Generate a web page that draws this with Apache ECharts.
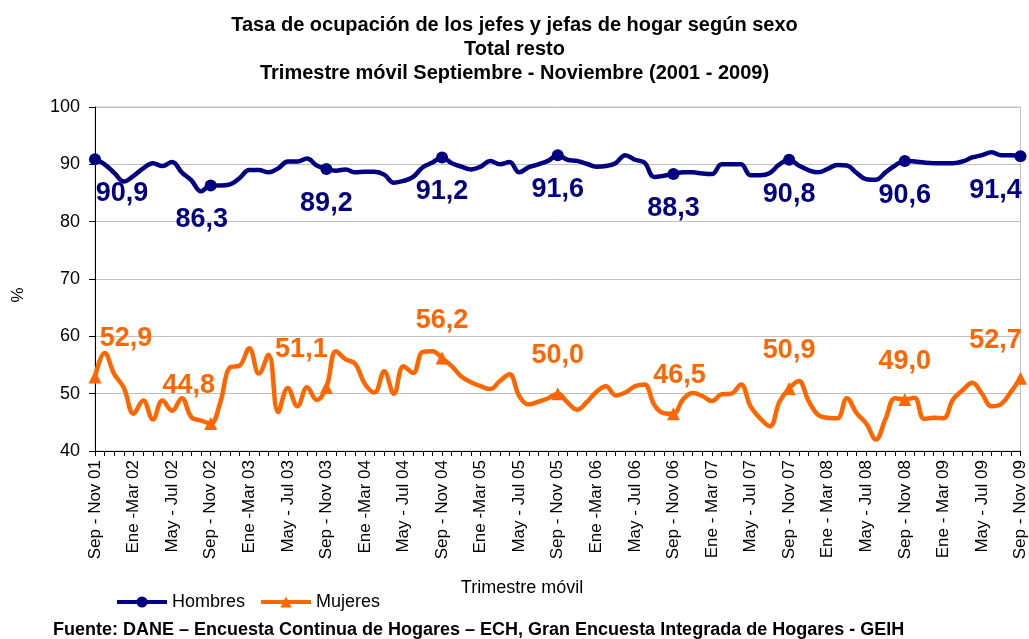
<!DOCTYPE html>
<html>
<head>
<meta charset="utf-8">
<script src="https://cdn.jsdelivr.net/npm/echarts@6/dist/echarts.min.js"></script>
<style>
  html, body { margin: 0; padding: 0; background: #fff; }
  #main { width: 1029px; height: 639px; }
</style>
</head>
<body>
<div id="main"></div>
<script>
// etiquetas visibles del eje x (cada 4 trimestres)
var tickLabels = ['Sep - Nov 01', 'Ene -Mar 02', 'May - Jul 02', 'Sep - Nov 02', 'Ene -Mar 03', 'May - Jul 03',
  'Sep - Nov 03', 'Ene -Mar 04', 'May - Jul 04', 'Sep - Nov 04', 'Ene -Mar 05', 'May - Jul 05',
  'Sep - Nov 05', 'Ene -Mar 06', 'May - Jul 06', 'Sep - Nov 06', 'Ene - Mar 07', 'May - Jul 07',
  'Sep - Nov 07', 'Ene - Mar 08', 'May - Jul 08', 'Sep - Nov 08', 'Ene - Mar 09', 'May - Jul 09', 'Sep - Nov 09'];
var meses = ['Ene', 'Feb', 'Mar', 'Abr', 'May', 'Jun', 'Jul', 'Ago', 'Sep', 'Oct', 'Nov', 'Dic'];

var hombres = [90.9, 90.0, 88.5, 87.0, 88.0, 89.3, 90.2, 89.7, 90.4, 88.6, 87.2, 85.3,
  86.3, 86.3, 86.5, 87.6, 89.0, 89.0, 88.6, 89.3, 90.5, 90.5, 91.0, 89.8,
  89.2, 88.9, 89.1, 88.6, 88.7, 88.7, 88.2, 86.8, 87.1, 87.8, 89.5, 90.3,
  91.2, 90.2, 89.6, 89.1, 89.6, 90.6, 90.0, 90.4, 88.6, 89.5, 90.0, 90.6,
  91.6, 90.8, 90.6, 90.1, 89.6, 89.7, 90.2, 91.6, 90.8, 90.3, 87.8, 88.0,
  88.3, 88.6, 88.6, 88.4, 88.3, 90.0, 90.0, 90.0, 88.1, 88.1, 88.5, 90.0,
  90.8, 89.8, 89.0, 88.6, 89.2, 89.9, 89.8, 88.5, 87.4, 87.3, 88.6, 89.8,
  90.6, 90.5, 90.3, 90.2, 90.2, 90.2, 90.5, 91.2, 91.6, 92.1, 91.6, 91.6,
  91.4];
var mujeres = [52.9, 57.1, 53.4, 51.0, 46.5, 48.8, 45.5, 48.8, 47.0, 49.2, 45.9, 45.3,
  44.8, 48.5, 54.6, 54.9, 57.9, 53.5, 56.8, 46.8, 51.0, 47.8, 51.1, 48.9,
  51.1, 57.4, 56.0, 55.2, 51.7, 50.2, 53.9, 50.0, 54.8, 53.6, 57.3, 57.4,
  56.2, 54.8, 53.0, 52.0, 51.3, 50.8, 52.2, 53.4, 49.6, 48.1, 48.6, 49.2,
  50.0, 48.5, 47.2, 48.5, 50.3, 51.3, 49.7, 50.2, 51.3, 51.6, 48.1, 46.6,
  46.5, 49.0, 50.1, 49.6, 48.7, 49.9, 50.0, 51.6, 47.8, 45.7, 44.3, 48.6,
  50.9, 52.2, 48.8, 46.3, 45.8, 45.7, 49.2, 46.6, 44.8, 42.0, 45.6, 49.2,
  49.0, 49.3, 45.6, 45.8, 45.7, 49.0, 50.6, 51.9, 50.0, 47.8, 48.2, 50.3,
  52.7];

// nombres de los trimestres moviles (Sep-Nov 01 ... Sep-Nov 09)
var categorias = hombres.map(function (v, i) {
  var m = (8 + i) % 12;
  var anio = 1 + Math.floor((8 + i + 2) / 12);
  return meses[m] + ' - ' + meses[(m + 2) % 12] + ' ' + (anio < 10 ? '0' + anio : anio);
});

var azul = '#000080';
var naranja = '#FF6600';

function fmt(v) { return v.toFixed(1).replace('.', ','); }

function marcar(i) { return i % 12 === 0; }

// desplazamiento horizontal de algunas etiquetas como en el original
var despH = { 0: [27, 0], 12: [-9, 0], 96: [-25, 0] };
var despM = { 0: [31, 0], 12: [-22, 0], 24: [-25, 0], 60: [6, 0], 96: [-25, 0] };

function serieDatos(vals, desp) {
  return vals.map(function (v, i) {
    if (!marcar(i)) return v;
    return { value: v, label: { show: true, offset: desp[i] || [0, 0] } };
  });
}

var chart = echarts.init(document.getElementById('main'));
var fontFam = '"Liberation Sans", Arial, sans-serif';

chart.setOption({
  textStyle: { fontFamily: fontFam },
  animation: false,
  title: {
    text: 'Tasa de ocupación de los jefes y jefas de hogar según sexo\nTotal resto\nTrimestre móvil Septiembre - Noviembre (2001 - 2009)',
    left: 'center',
    top: 8,
    textStyle: { fontSize: 20, fontWeight: 'bold', color: '#000', lineHeight: 24, fontFamily: fontFam }
  },
  legend: {
    left: 110,
    top: 588,
    itemWidth: 50,
    itemHeight: 14,
    itemGap: 14,
    lineStyle: { width: 4 },
    textStyle: { fontSize: 18, color: '#000', fontFamily: fontFam },
    data: ['Hombres', 'Mujeres']
  },
  graphic: [{
    type: 'text',
    left: 53,
    top: 621,
    style: {
      text: 'Fuente: DANE – Encuesta Continua de Hogares – ECH, Gran Encuesta Integrada de Hogares - GEIH',
      font: 'bold 18px ' + fontFam,
      fill: '#000'
    }
  }, {
    type: 'text',
    x: 522,
    y: 588,
    style: {
      text: 'Trimestre móvil',
      font: '18px ' + fontFam,
      fill: '#000',
      align: 'center',
      verticalAlign: 'middle'
    }
  }, {
    type: 'text',
    x: 18,
    y: 295,
    rotation: Math.PI / 2,
    style: {
      text: '%',
      font: '17px ' + fontFam,
      fill: '#000',
      align: 'center',
      verticalAlign: 'middle'
    }
  }],
  grid: { left: 95, right: 5, top: 107, bottom: 188, show: true, borderColor: '#c0c0c0', borderWidth: 1 },
  xAxis: {
    type: 'category',
    data: categorias,
    boundaryGap: false,
    axisLine: { lineStyle: { color: '#000', width: 1 } },
    axisTick: { interval: 0, length: 5, lineStyle: { color: '#000' } },
    axisLabel: {
      interval: 0,
      rotate: 90,
      margin: 9,
      fontSize: 17,
      color: '#000',
      formatter: function (v, i) { return i % 4 === 0 ? tickLabels[i / 4] : ''; }
    }
  },
  yAxis: {
    type: 'value',
    min: 40,
    max: 100,
    interval: 10,
    axisLine: { show: true, lineStyle: { color: '#000' } },
    axisTick: { show: true, length: 6, lineStyle: { color: '#000' } },
    axisLabel: { fontSize: 18, color: '#000', margin: 15 },
    splitLine: { lineStyle: { color: '#c0c0c0' } }
  },
  series: [
    {
      name: 'Hombres',
      type: 'line',
      smooth: 0.4,
      data: serieDatos(hombres, despH),
      color: azul,
      symbol: 'circle',
      showAllSymbol: true,
      symbolSize: function (v, p) { return marcar(p.dataIndex) ? 12 : 0; },
      lineStyle: { width: 4.5, color: azul },
      itemStyle: { color: azul },
      label: {
        show: false,
        position: 'bottom',
        distance: 15,
        fontSize: 27,
        fontWeight: 'bold',
        color: azul,
        formatter: function (p) { return fmt(p.value); }
      }
    },
    {
      name: 'Mujeres',
      type: 'line',
      smooth: 0.4,
      data: serieDatos(mujeres, despM),
      color: naranja,
      symbol: 'triangle',
      showAllSymbol: true,
      symbolSize: function (v, p) { return marcar(p.dataIndex) ? 13 : 0; },
      lineStyle: { width: 4.5, color: naranja },
      itemStyle: { color: naranja },
      label: {
        show: false,
        position: 'top',
        distance: 18,
        fontSize: 27,
        fontWeight: 'bold',
        color: naranja,
        formatter: function (p) { return fmt(p.value); }
      }
    }
  ]
});
</script>
</body>
</html>
